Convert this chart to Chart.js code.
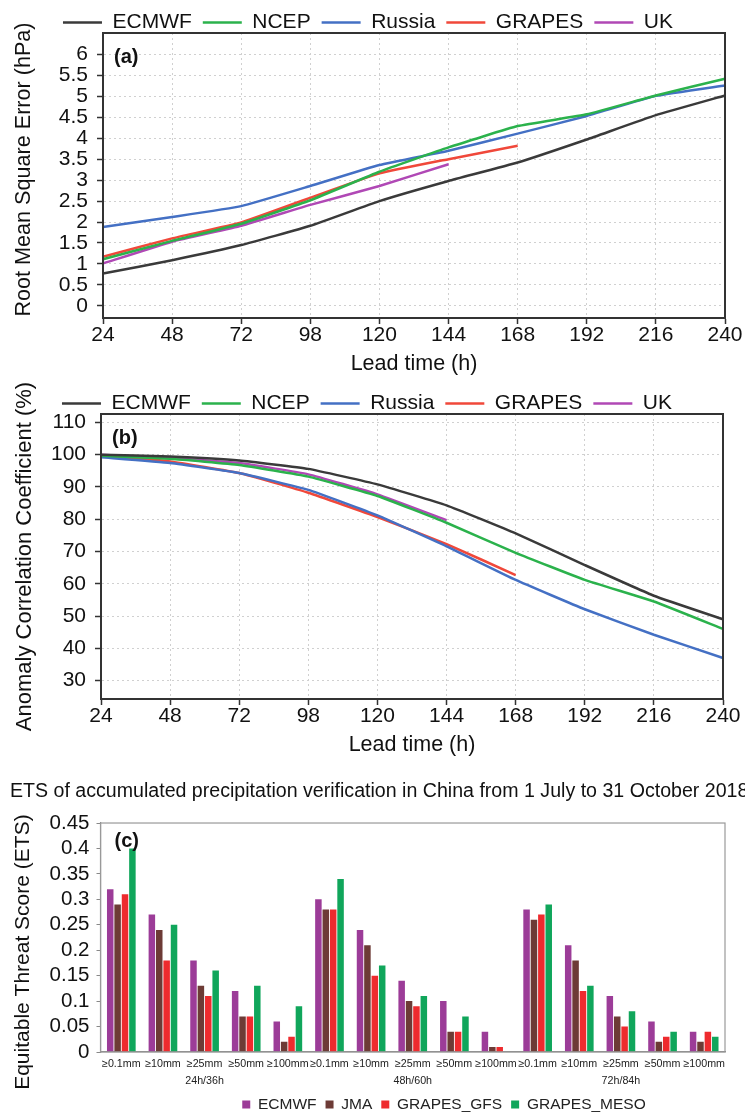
<!DOCTYPE html>
<html>
<head>
<meta charset="utf-8">
<script src="https://cdn.jsdelivr.net/npm/chart.js@4.4.1/dist/chart.umd.min.js"></script>
<style>
  body { margin: 0; background: #fff; width: 745px; height: 1112px; overflow: hidden; position: relative; }
  .panel { position: absolute; left: 0; width: 745px; }
</style>
</head>
<body>
<div class="panel" style="top:0;height:380px"><canvas id="rmseChart"></canvas></div>
<div class="panel" style="top:381px;height:380px"><canvas id="accChart"></canvas></div>
<div class="panel" style="top:760px;height:352px"><canvas id="etsChart"></canvas></div>
<script>
// lead times (label 98 as printed in the figure)
const leadTimes = ['24', '48', '72', '98', '120', '144', '168', '192', '216', '240'];
const models = ['ECMWF', 'NCEP', 'Russia', 'GRAPES', 'UK'];
const modelColors = ['#3a3a3a', '#2bb24c', '#4470c4', '#f0483a', '#b048b5'];

// (a) RMSE, hPa
const rmseEcmwf  = [0.77, 1.09, 1.45, 1.91, 2.50, 2.98, 3.42, 3.97, 4.55, 5.02];
const rmseNcep   = [1.11, 1.55, 1.96, 2.52, 3.20, 3.78, 4.29, 4.57, 5.02, 5.42];
const rmseRussia = [1.88, 2.12, 2.38, 2.86, 3.36, 3.70, 4.11, 4.53, 5.01, 5.26];
const rmseGrapes = [1.17, 1.61, 1.99, 2.58, 3.16, 3.50, 3.82, null, null, null];
const rmseUk     = [1.01, 1.53, 1.91, 2.41, 2.86, 3.38, null, null, null, null];
const rmseTicks  = [0, 0.5, 1, 1.5, 2, 2.5, 3, 3.5, 4, 4.5, 5, 5.5, 6];

// (b) ACC, %
const accEcmwf  = [100.0, 99.4, 98.2, 95.6, 90.8, 84.3, 75.6, 65.8, 56.3, 49.0];
const accNcep   = [99.7, 98.7, 96.8, 93.2, 87.2, 78.9, 69.6, 61.2, 54.5, 46.0];
const accRussia = [99.2, 97.4, 94.3, 89.1, 81.2, 71.6, 61.2, 52.1, 44.2, 37.0];
const accGrapes = [99.7, 97.9, 94.3, 88.2, 80.7, 72.3, 62.7, null, null, null];
const accUk     = [100.0, 98.9, 97.4, 93.9, 87.7, 79.7, null, null, null, null];
const accTicks  = [30, 40, 50, 60, 70, 80, 90, 100, 110];

// (c) ETS
const thresholds = ['≥0.1mm', '≥10mm', '≥25mm', '≥50mm', '≥100mm'];
const leadGroups = ['24h/36h', '48h/60h', '72h/84h'];
const etsModels = ['ECMWF', 'JMA', 'GRAPES_GFS', 'GRAPES_MESO'];
const etsColors = ['#9c3c98', '#6d3b36', '#ee2b2e', '#10a65b'];
const etsEcmwf = [0.32, 0.27, 0.18, 0.12, 0.06, 0.30, 0.24, 0.14, 0.10, 0.04, 0.28, 0.21, 0.11, 0.06, 0.04];
const etsJma   = [0.29, 0.24, 0.13, 0.07, 0.02, 0.28, 0.21, 0.10, 0.04, 0.01, 0.26, 0.18, 0.07, 0.02, 0.02];
const etsGfs   = [0.31, 0.18, 0.11, 0.07, 0.03, 0.28, 0.15, 0.09, 0.04, 0.01, 0.27, 0.12, 0.05, 0.03, 0.04];
const etsMeso  = [0.40, 0.25, 0.16, 0.13, 0.09, 0.34, 0.17, 0.11, 0.07, null, 0.29, 0.13, 0.08, 0.04, 0.03];
const etsTicks = [0, 0.05, 0.1, 0.15, 0.2, 0.25, 0.3, 0.35, 0.4, 0.45];

const FONT = "'Liberation Sans', Arial, Helvetica, sans-serif";
Chart.defaults.font.family = FONT;
Chart.defaults.color = '#111';
Chart.defaults.animation = false;

// frame round the plot, panel letter, and small shifts of legend/title
const panelDecor = {
    id: 'panelDecor',
    afterLayout(chart, args, o) {
        const lg = chart.legend;
        if (lg) {
            lg.left += o.legendDx || 0;
            lg.right += o.legendDx || 0;
            lg.top += o.legendDy || 0;
            lg.bottom += o.legendDy || 0;
        }
        if (o.wideTitle && chart.titleBlock) {
            chart.titleBlock.right = chart.titleBlock.left + 2000;
        }
    },
    afterDatasetsDraw(chart, args, o) {
        const { ctx, chartArea: a } = chart;
        ctx.save();
        ctx.strokeStyle = o.frameColor;
        ctx.lineWidth = o.frameWidth;
        ctx.strokeRect(a.left, a.top, a.right - a.left, a.bottom - a.top);
        ctx.fillStyle = '#111';
        ctx.font = 'bold 20px ' + FONT;
        ctx.textBaseline = 'middle';
        ctx.textAlign = 'left';
        ctx.fillText(o.tag, a.left + o.tagX, a.top + o.tagY);
        ctx.restore();
    }
};

function lineChart(id, series, yTitle, yMin, yMax, yTicks, cfg) {
    const datasets = models.map((name, i) => ({
        label: name,
        data: series[i],
        borderColor: modelColors[i],
        backgroundColor: modelColors[i],
        borderWidth: 2.5,
        pointRadius: 0,
        tension: 0.12
    }));

    return new Chart(document.getElementById(id), {
        type: 'line',
        data: { labels: leadTimes, datasets: datasets },
        plugins: [panelDecor],
        options: {
            responsive: true,
            maintainAspectRatio: false,
            layout: { padding: { top: -9, right: cfg.padRight, left: 0, bottom: 0 } },
            scales: {
                x: {
                    offset: false,
                    grid: { color: '#d0d0d0', lineWidth: 1, tickLength: 6, tickColor: '#333', tickWidth: 1.5 },
                    border: { color: '#333', width: 2, dash: [2, 3] },
                    ticks: { autoSkip: false, maxRotation: 0, padding: 1, color: '#111', font: { size: 21, lineHeight: 1 } },
                    title: { display: true, text: 'Lead time (h)', color: '#111', font: { size: 21.5 }, padding: { top: 0, bottom: 3 } },
                    afterFit: s => { s.height = 62; }
                },
                y: {
                    min: yMin,
                    max: yMax,
                    afterBuildTicks: s => { s.ticks = yTicks.map(v => ({ value: v })); },
                    grid: { color: '#d0d0d0', lineWidth: 1, tickLength: 6, tickColor: '#333', tickWidth: 1.5 },
                    border: { color: '#333', width: 2, dash: [2, 3] },
                    ticks: { autoSkip: false, padding: 9, color: '#111', font: { size: 21 }, callback: v => String(v) },
                    title: { display: true, text: yTitle, color: '#111', font: { size: cfg.titleSize }, padding: { top: cfg.titlePad, bottom: 0 } },
                    afterFit: s => { s.width = cfg.yWidth; }
                }
            },
            plugins: {
                legend: {
                    position: 'top',
                    labels: {
                        usePointStyle: true,
                        pointStyle: 'line',
                        pointStyleWidth: 39,
                        color: '#111',
                        font: { size: 21 },
                        padding: 11
                    }
                },
                tooltip: { enabled: false },
                panelDecor: {
                    legendDx: 5.5, legendDy: 10,
                    frameColor: '#333', frameWidth: 2,
                    tag: cfg.tag, tagX: 11, tagY: 24
                }
            }
        }
    });
}

lineChart('rmseChart', [rmseEcmwf, rmseNcep, rmseRussia, rmseGrapes, rmseUk],
    '  Root Mean Square Error (hPa)', -0.29, 6.51, rmseTicks,
    { padRight: 20, yWidth: 103, titlePad: 11, titleSize: 21.6, tag: '(a)' });

lineChart('accChart', [accEcmwf, accNcep, accRussia, accGrapes, accUk],
    'Anomaly Correlation Coefficient (%)', 24.3, 112.6, accTicks,
    { padRight: 22, yWidth: 101, titlePad: 12, titleSize: 22, tag: '(b)' });

// (c) grouped bars, two-line category labels
const etsLabels = [];
leadGroups.forEach(g => {
    thresholds.forEach((t, j) => { etsLabels.push([t, j === 2 ? g : '']); });
});
const etsSeries = [etsEcmwf, etsJma, etsGfs, etsMeso];

new Chart(document.getElementById('etsChart'), {
    type: 'bar',
    data: {
        labels: etsLabels,
        datasets: etsModels.map((name, i) => ({
            label: name,
            data: etsSeries[i],
            backgroundColor: etsColors[i],
            borderWidth: 0,
            categoryPercentage: 0.71,
            barPercentage: 0.88
        }))
    },
    plugins: [panelDecor],
    options: {
        responsive: true,
        maintainAspectRatio: false,
        layout: { padding: { top: 0, right: 20, left: 10, bottom: -9.5 } },
        scales: {
            x: {
                grid: { display: false },
                border: { color: '#888', width: 1.2 },
                ticks: { autoSkip: false, maxRotation: 0, padding: -4.6, color: '#222', font: { size: 10.7, lineHeight: 1.6 } },
                afterFit: s => { s.height = 35; }
            },
            y: {
                min: 0,
                max: 0.45,
                afterBuildTicks: s => { s.ticks = etsTicks.map(v => ({ value: v })); },
                grid: { drawOnChartArea: false, tickLength: 4, tickColor: '#888' },
                border: { color: '#888', width: 1.2 },
                ticks: { autoSkip: false, padding: 7, color: '#111', font: { size: 20.5 }, callback: v => String(v) },
                title: { display: true, text: 'Equitable Threat Score (ETS)     ', color: '#111', font: { size: 21 }, padding: { top: 1, bottom: 0 } },
                afterFit: s => { s.width = 90.5; }
            }
        },
        plugins: {
            title: {
                display: true,
                align: 'start',
                text: 'ETS of accumulated precipitation verification in China from 1 July to 31 October 2018',
                color: '#111',
                font: { size: 19.6, weight: 'normal' },
                padding: { top: 19.5, bottom: 20 }
            },
            legend: {
                position: 'bottom',
                labels: { boxWidth: 8, boxHeight: 8, color: '#222', font: { size: 15.5 }, padding: 9 }
            },
            tooltip: { enabled: false },
            panelDecor: {
                legendDx: 76.5, legendDy: 0.75, wideTitle: true,
                frameColor: '#999', frameWidth: 1.2,
                tag: '(c)', tagX: 14, tagY: 18
            }
        }
    }
});
</script>
</body>
</html>
